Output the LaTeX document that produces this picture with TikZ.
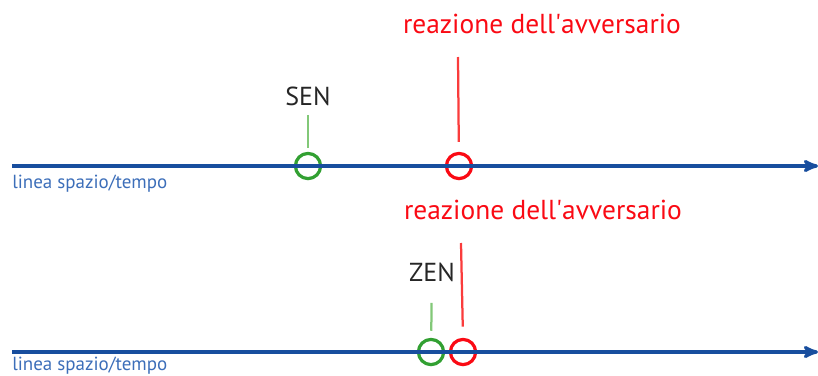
\documentclass[tikz,border=0pt]{standalone}
\usepackage{fontspec}
\setmainfont{PT Sans}
\usetikzlibrary{arrows, positioning}
\definecolor{blu}{RGB}{24,78,158}
\definecolor{bluchiaro}{RGB}{60,110,185}
\definecolor{verde}{RGB}{50,160,50}
\definecolor{verdechiaro}{RGB}{130,200,120}
\definecolor{rosso}{RGB}{250,10,20}
\definecolor{rossochiaro}{RGB}{250,60,60}

\begin{document}
\begin{tikzpicture}[x=0.025cm, y=-0.025cm, >=stealth',
	asse/.style={->, draw=blu, line width=2.3pt},
	etichetta/.style={text=bluchiaro, font=\fontsize{13.5}{15}\selectfont, anchor=west, inner sep=0pt},
	evento/.style={circle, draw=#1, line width=2.3pt, minimum size=0.63cm, inner sep=0pt, fill=none},
	tacca/.style={draw=#1, line width=1.6pt},
	nome/.style={text=black!85, font=\fontsize{18.5}{20}\selectfont, inner sep=0pt},
	reazione/.style={text=rosso, font=\fontsize{19.5}{22}\selectfont, inner sep=0pt}]
	\useasboundingbox (0,0) rectangle (818,376);

	% prima linea: SEN
	\coordinate (inizio1) at (12,166);
	\coordinate (fine1) at (818,166);
	\node[etichetta] (tempo1) at (12,184) {linea spazio/tempo};
	\node[evento=verde] (sen) at (308,166) {};
	\node[evento=rosso] (avv1) at (459,166) {};
	\node[nome] (sentxt) at (308,96) {SEN};
	\node[reazione] (reaz1) at (542,24) {reazione dell\textquotesingle avversario};
	\coordinate (cima1) at (458,57);

	% seconda linea: ZEN
	\coordinate (inizio2) at (12,352);
	\coordinate (fine2) at (818,352);
	\node[etichetta] (tempo2) at (12,366) {linea spazio/tempo};
	\node[evento=verde] (zen) at (431,352) {};
	\node[evento=rosso] (avv2) at (463,352) {};
	\node[nome] (zentxt) at (432,272) {ZEN};
	\node[reazione] (reaz2) at (543,210) {reazione dell\textquotesingle avversario};
	\coordinate (cima2) at (461,243);

	\path[asse] (inizio1) -- (fine1);
	\path[asse] (inizio2) -- (fine2);
	\draw[tacca=verdechiaro, shorten <=6.5pt, shorten >=3pt] (sentxt) -- (sen);
	\draw[tacca=rossochiaro, shorten >=7pt] (cima1) -- (avv1);
	\draw[tacca=verdechiaro, shorten <=15pt, shorten >=5pt] (zentxt) -- (zen);
	\draw[tacca=rossochiaro, shorten >=8pt] (cima2) -- (avv2.north);
\end{tikzpicture}
\end{document}
